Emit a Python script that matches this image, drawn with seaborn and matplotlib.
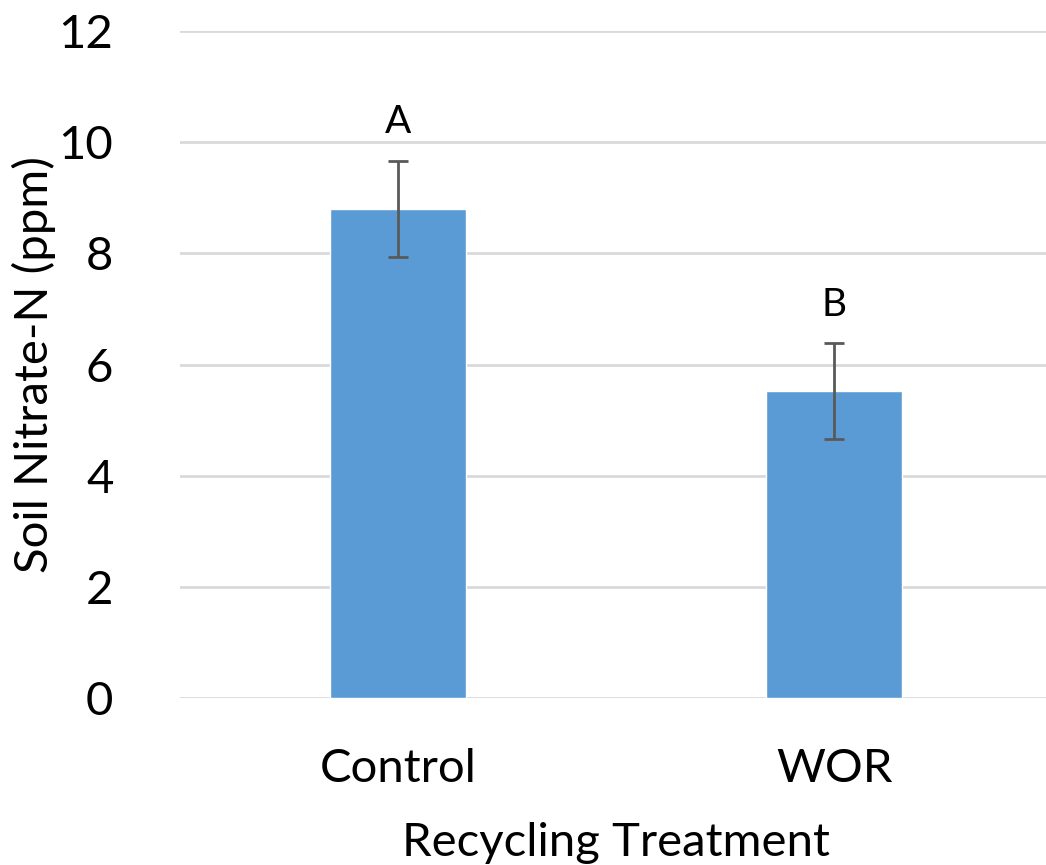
import matplotlib
matplotlib.use("Agg")
import matplotlib.pyplot as plt
import seaborn as sns
import numpy as np
import pandas as pd

# data
treatments = ["Control", "WOR"]
nitrate = [8.8, 5.52]
err = [0.86, 0.86]
letters = ["A", "B"]

sns.set_style("white")
plt.rcParams['font.family'] = ['Lato', 'DejaVu Sans']
plt.rcParams['text.color'] = 'black'

df = pd.DataFrame({"Treatment": treatments, "Nitrate": nitrate})

fig = plt.figure(figsize=(10.46, 8.65), dpi=100)
ax = fig.add_axes([180 / 1046, 1 - 698 / 865, 872 / 1046, (698 - 31) / 865])

sns.barplot(data=df, x="Treatment", y="Nitrate", color="#5B9BD5", width=0.312,
            saturation=1, errorbar=None, ax=ax, zorder=3)

xs = np.arange(len(treatments))
ax.errorbar(xs, nitrate, yerr=err, fmt="none", ecolor="#595959", elinewidth=2,
            capsize=7, capthick=2, zorder=4)

for x, y, e, lab in zip(xs, nitrate, err, letters):
    ax.text(x, y + e + 0.5, lab, ha="center", va="baseline", fontsize=28, color="black")

ax.set_ylim(0, 12)
ax.set_xlim(-0.5, 1.5)
ax.set_yticks(range(0, 13, 2))
ax.yaxis.grid(True, color="#D9D9D9", linewidth=2)
ax.set_axisbelow(True)
for s in ax.spines.values():
    s.set_visible(False)

ax.tick_params(axis="y", labelsize=34, pad=48, length=0, labelcolor="black")
ax.tick_params(axis="x", labelsize=34, pad=36, length=0, labelcolor="black")
ax.set_xlabel("Recycling Treatment", fontsize=34, labelpad=23, color="black")
ax.set_ylabel("Soil Nitrate-N (ppm)", fontsize=34, labelpad=2, color="black")

fig.savefig("out.png", dpi=100)
